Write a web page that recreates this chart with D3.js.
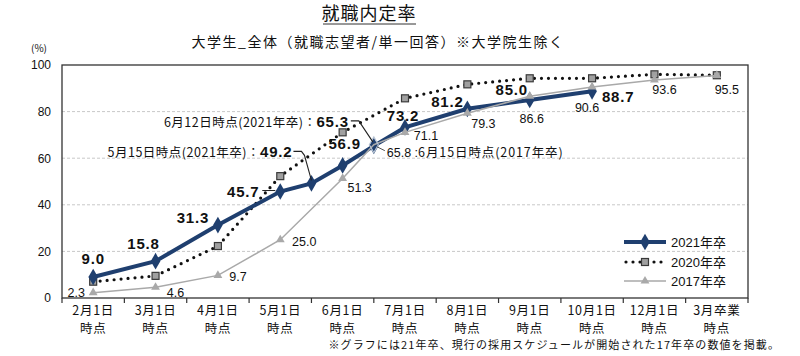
<!DOCTYPE html>
<html><head><meta charset="utf-8">
<script src="https://cdn.jsdelivr.net/npm/d3@7"></script>
<style>
body{margin:0;background:#fff;}
svg{display:block;}
text{font-family:"Liberation Sans","Noto Sans CJK JP",sans-serif;fill:#111;}
.jp{font-family:"Noto Sans CJK JP","Liberation Sans",sans-serif;}
</style></head><body>
<svg id="c" width="800" height="356"></svg>
<script>
// ---------- data ----------
const categories = ["2月1日|時点","3月1日|時点","4月1日|時点","5月1日|時点","6月1日|時点","7月1日|時点","8月1日|時点","9月1日|時点","10月1日|時点","12月1日|時点","3月卒業|時点"];
const yTicks = [0,20,40,60,80,100];
// positions are category indices (x.5 = mid-month survey dates)
const pos2021 = [0,1,2,3,3.5,4,4.5,5,6,7,8];
const val2021 = [9.0,15.8,31.3,45.7,49.2,56.9,65.3,73.2,81.2,85.0,88.7];
const pos2020 = [0,1,2,3,4,5,6,7,8,9,10];
const val2020 = [7.0,9.5,22.3,52.3,71.1,85.7,91.7,94.3,94.3,96.0,95.6];
const pos2017 = [0,1,2,3,4,4.5,5,6,7,8,9,10];
const val2017 = [2.3,4.6,9.7,25.0,51.3,65.8,71.1,79.3,86.6,90.6,93.6,95.5];
const seriesNames = ["2021年卒","2020年卒","2017年卒"];

// ---------- layout ----------
const svg = d3.select("#c");
const L=62, R=748, T=65, B=298;
const x = d3.scaleLinear().domain([-0.5, categories.length-0.5]).range([L,R]);
const y = d3.scaleLinear().domain([0,100]).range([B,T]);
const C21="#1f3f6f", C17="#a9a9a9";

// title
svg.append("text").attr("class","jp").attr("x",369).attr("y",20).attr("text-anchor","middle")
  .attr("font-size",18).attr("letter-spacing",1).attr("fill","#333").text("就職内定率");
svg.append("line").attr("x1",323).attr("x2",416).attr("y1",24).attr("y2",24).attr("stroke","#333").attr("stroke-width",1);
svg.append("text").attr("class","jp").attr("x",378).attr("y",47).attr("text-anchor","middle")
  .attr("font-size",14).attr("letter-spacing",1.5).text("大学生_全体（就職志望者/単一回答）※大学院生除く");
svg.append("text").attr("class","jp").attr("x",39).attr("y",52).attr("text-anchor","middle")
  .attr("font-size",10).text("(%)");

// grid
svg.append("g").selectAll("line").data(yTicks.filter(d=>d>0&&d<100)).join("line")
  .attr("x1",L).attr("x2",R).attr("y1",d=>y(d)).attr("y2",d=>y(d))
  .attr("stroke","#c8c8c8").attr("stroke-dasharray","3,2").attr("stroke-width",1);

// y axis labels
const ya = svg.append("g").attr("transform",`translate(${L},0)`)
  .call(d3.axisLeft(y).tickValues(yTicks).tickSize(0).tickPadding(11));
ya.select(".domain").remove();
ya.selectAll("text").attr("font-size",12).attr("font-family","Liberation Sans").attr("fill","#111");

// x axis
const band = d3.scaleBand().domain(categories).range([L,R]);
const xa = svg.append("g").attr("transform",`translate(0,${B})`);
xa.selectAll("line.tk").data(d3.range(categories.length+1)).join("line").attr("class","tk")
  .attr("x1",i=>L+i*band.bandwidth()).attr("x2",i=>L+i*band.bandwidth()).attr("y1",0).attr("y2",5)
  .attr("stroke","#333").attr("stroke-width",1.2);
categories.forEach(c=>{
  const parts=c.split("|");
  const cx = band(c)+band.bandwidth()/2;
  xa.append("text").attr("class","jp").attr("text-anchor","middle").attr("font-size",12.5).attr("letter-spacing",0.7)
    .attr("x",cx).attr("y",16.5).text(parts[0]);
  xa.append("text").attr("class","jp").attr("text-anchor","middle").attr("font-size",12.5).attr("letter-spacing",0.7)
    .attr("x",cx).attr("y",34.5).text(parts[1]);
});

// frame
svg.append("rect").attr("x",L).attr("y",T).attr("width",R-L).attr("height",B-T)
  .attr("fill","none").attr("stroke","#333").attr("stroke-width",1.3);

const line = d3.line().x(d=>x(d[0])).y(d=>y(d[1]));
const d21 = pos2021.map((p,i)=>[p,val2021[i]]);
const d20 = pos2020.map((p,i)=>[p,val2020[i]]);
const d17 = pos2017.map((p,i)=>[p,val2017[i]]);

// 2020 dotted
svg.append("path").attr("d",line(d20)).attr("fill","none").attr("stroke","#111")
  .attr("stroke-width",3.2).attr("stroke-linecap","round").attr("stroke-dasharray","0,7");
svg.append("g").selectAll("rect").data(d20).join("rect")
  .attr("x",d=>x(d[0])-3.5).attr("y",d=>y(d[1])-3.5).attr("width",7).attr("height",7)
  .attr("fill","#a0a0a0").attr("stroke","#3a3a3a").attr("stroke-width",1.2);

// 2021
svg.append("path").attr("d",line(d21)).attr("fill","none").attr("stroke",C21).attr("stroke-width",4);
const diamond = d3.symbol().type(d3.symbolDiamond).size(80);
svg.append("g").selectAll("path").data(d21).join("path")
  .attr("d",diamond).attr("transform",d=>`translate(${x(d[0])},${y(d[1])})`).attr("fill",C21);

// 2017
svg.append("path").attr("d",line(d17)).attr("fill","none").attr("stroke",C17).attr("stroke-width",1.5);
const tri = d3.symbol().type(d3.symbolTriangle).size(34);
svg.append("g").selectAll("path").data(d17.filter(d=>d[0]%1===0)).join("path")
  .attr("d",tri).attr("transform",d=>`translate(${x(d[0])},${y(d[1])})`).attr("fill",C17);
svg.append("g").selectAll("path").data(d17.filter(d=>d[0]%1!==0)).join("path")
  .attr("d",d3.symbol().type(d3.symbolDiamond).size(70)).attr("transform",d=>`translate(${x(d[0])},${y(d[1])})`)
  .attr("fill","none").attr("stroke","#b8c4d4").attr("stroke-width",1.2);

// labels 2021 (offsets in px from point)
const off21 = {0:[0,-18],1:[-12,-18],2:[-25,-7],3:[-37,0],5:[2,-22],7:[-2,-12],8:[-20,-7],9:[-18,-10],10:[26,5]};
d21.forEach((d,i)=>{
  const o = off21[i]; if(!o) return;
  svg.append("text").attr("x",x(d[0])+o[0]).attr("y",y(d[1])+o[1]).attr("dy","0.36em")
    .attr("text-anchor","middle").attr("font-size",15).attr("font-weight","bold").attr("letter-spacing",0.8)
    .text(d[1].toFixed(1));
});
// short leader for 45.7
{const d=d21[3]; svg.append("line").attr("x1",x(d[0])-18).attr("x2",x(d[0])-5).attr("y1",y(d[1])-1).attr("y2",y(d[1])-1)
  .attr("stroke","#222").attr("stroke-width",1);}

// labels 2017
const off17 = {0:[-17,0],1:[20,5],2:[20,1],3:[24,2],4:[17,9],6:[21,3],7:[16,10],8:[2,22],9:[-5,21],10:[10,10],11:[10,14]};
d17.forEach((d,i)=>{
  const o = off17[i]; if(!o) return;
  svg.append("text").attr("x",x(d[0])+o[0]).attr("y",y(d[1])+o[1]).attr("dy","0.36em")
    .attr("text-anchor","middle").attr("font-size",12.5).text(d[1].toFixed(1));
});

// annotations
function ann(textStr, numStr, xEnd, yMid){
  const t = svg.append("text").attr("x",xEnd).attr("y",yMid).attr("dy","0.36em").attr("text-anchor","end");
  t.append("tspan").attr("class","jp").attr("font-size",12.5).attr("letter-spacing",0.5).text(textStr);
  t.append("tspan").attr("font-size",15).attr("font-weight","bold").attr("letter-spacing",0.8).text(numStr);
}
{ // 49.2 (5/15)
  const d=d21[4], px=x(d[0]), py=y(d[1]);
  ann("5月15日時点(2021年卒)：", d[1].toFixed(1), px-19, py-32);
  svg.append("path").attr("d",`M${px-18},${py-32}H${px-10}L${px-7},${py-28}L${px},${py-3}`)
    .attr("fill","none").attr("stroke","#222").attr("stroke-width",1.1);
}
{ // 65.3 (6/12)
  const d=d21[6], px=x(d[0]), py=y(d[1]);
  ann("6月12日時点(2021年卒)：", d[1].toFixed(1), px-25, py-25);
  svg.append("path").attr("d",`M${px-23},${py-25}H${px-15}L${px-1},${py-4}`)
    .attr("fill","none").attr("stroke","#222").attr("stroke-width",1.1);
}
{ // 65.8 (6/15, 2017)
  const d=d17[5], px=x(d[0]), py=y(d[1]);
  svg.append("line").attr("x1",px+3).attr("x2",px+11).attr("y1",py+2).attr("y2",py+6).attr("stroke","#555").attr("stroke-width",1);
  const t=svg.append("text").attr("x",px+13).attr("y",py+7).attr("dy","0.36em");
  t.append("tspan").attr("font-size",12.5).text(d[1].toFixed(1)+" :");
  t.append("tspan").attr("class","jp").attr("font-size",12.5).attr("letter-spacing",0.9).text("6月15日時点(2017年卒)");
}

// legend
const lg = svg.append("g");
const ly=[242,262,281], lx1=624, lx2=666, lm=645;
lg.append("line").attr("x1",lx1).attr("x2",lx2).attr("y1",ly[0]).attr("y2",ly[0]).attr("stroke",C21).attr("stroke-width",4);
lg.append("path").attr("d",diamond).attr("transform",`translate(${lm},${ly[0]})`).attr("fill",C21);
lg.append("line").attr("x1",lx1+2).attr("x2",lx2-2).attr("y1",ly[1]).attr("y2",ly[1]).attr("stroke","#111")
  .attr("stroke-width",3.2).attr("stroke-linecap","round").attr("stroke-dasharray","0,7");
lg.append("rect").attr("x",lm-3.5).attr("y",ly[1]-3.5).attr("width",7).attr("height",7).attr("fill","#a0a0a0").attr("stroke","#3a3a3a").attr("stroke-width",1.2);
lg.append("line").attr("x1",lx1).attr("x2",lx2).attr("y1",ly[2]).attr("y2",ly[2]).attr("stroke",C17).attr("stroke-width",1.5);
lg.append("path").attr("d",tri).attr("transform",`translate(${lm},${ly[2]})`).attr("fill",C17);
seriesNames.forEach((n,i)=>lg.append("text").attr("x",671).attr("y",ly[i]).attr("dy","0.36em").attr("font-size",13).text(n));

// footnote
svg.append("text").attr("class","jp").attr("x",780).attr("y",349).attr("text-anchor","end")
  .attr("font-size",11).attr("letter-spacing",1.1).text("※グラフには21年卒、現行の採用スケジュールが開始された17年卒の数値を掲載。");
</script></body></html>
